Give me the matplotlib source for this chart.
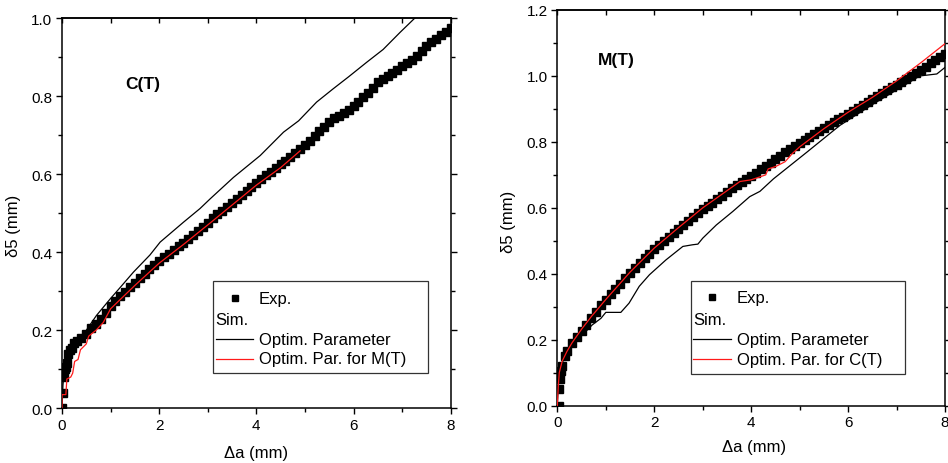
import matplotlib
matplotlib.use('Agg')
import matplotlib.pyplot as plt
from matplotlib.lines import Line2D
from matplotlib.patches import Rectangle
from matplotlib.ticker import MultipleLocator

plt.rcParams['font.family'] = ['Liberation Sans', 'DejaVu Sans']

################################################################################################
# DATA
################################################################################################

# C(T) panel
ct_exp_x = [0, 0.02, 0.04, 0.06, 0.08, 0.1, 0.13, 0.16, 0.2, 0.25, 0.3,
            0.4, 0.5, 0.6, 0.7, 0.8, 0.9,
            1.0, 1.1, 1.2, 1.3, 1.4, 1.5, 1.6, 1.7, 1.8, 1.9,
            2.0, 2.1, 2.2, 2.3, 2.4, 2.5, 2.6, 2.7, 2.8, 2.9,
            3.0, 3.1, 3.2, 3.3, 3.4, 3.5, 3.6, 3.7, 3.8, 3.9,
            4.0, 4.1, 4.2, 4.3, 4.4, 4.5, 4.6, 4.7, 4.8, 4.9,
            5.0, 5.1, 5.2, 5.3, 5.4, 5.5, 5.6, 5.7, 5.8, 5.9,
            6.0, 6.1, 6.2, 6.3, 6.4, 6.5, 6.6, 6.7, 6.8, 6.9,
            7.0, 7.1, 7.2, 7.3, 7.4, 7.5, 7.6, 7.7, 7.8, 7.9, 8.0]
ct_exp_y = [0, 0.04, 0.08, 0.10, 0.105, 0.115, 0.14, 0.15, 0.155, 0.168, 0.172,
            0.18, 0.19, 0.205, 0.215, 0.23, 0.245,
            0.262, 0.274, 0.287, 0.298, 0.31, 0.321, 0.333, 0.345, 0.357, 0.367,
            0.378, 0.387, 0.396, 0.406, 0.416, 0.425, 0.435, 0.445, 0.455, 0.465,
            0.476, 0.487, 0.497, 0.507, 0.517, 0.527, 0.537, 0.547, 0.557, 0.567,
            0.578, 0.588, 0.597, 0.605, 0.616, 0.626, 0.635, 0.645, 0.655, 0.665,
            0.675, 0.686, 0.698, 0.71, 0.72, 0.733, 0.745, 0.75, 0.756, 0.765,
            0.776, 0.785, 0.797, 0.808, 0.822, 0.836, 0.845, 0.853, 0.86, 0.868,
            0.877, 0.885, 0.893, 0.903, 0.915, 0.928, 0.938, 0.947, 0.957, 0.966, 0.975]

ct_opt_x = [0, 0.02, 0.05, 0.1, 0.2, 0.3, 0.5, 0.71, 0.99, 1.2, 1.47, 1.81, 2.02, 2.5,
            2.84, 3.05, 3.53, 4.08, 4.56, 4.87, 5.24, 5.58, 5.9, 6.27, 6.61, 6.96, 7.3]
ct_opt_y = [0, 0.06, 0.1, 0.13, 0.16, 0.175, 0.2, 0.238, 0.28, 0.31, 0.349, 0.393, 0.426, 0.477,
            0.512, 0.537, 0.592, 0.648, 0.708, 0.737, 0.785, 0.819, 0.85, 0.887, 0.92, 0.964, 1.005]

ct_mt_x = [0, 0.0, 0.08, 0.1, 0.18, 0.22, 0.26, 0.33, 0.38, 0.5, 0.55, 0.7, 0.85,
           1.0, 1.5, 2.0, 2.5, 3.0, 3.5, 4.0, 4.5, 4.9]
ct_mt_y = [0, 0.035, 0.035, 0.075, 0.08, 0.09, 0.12, 0.125, 0.15, 0.165, 0.185, 0.2, 0.22,
           0.255, 0.315, 0.372, 0.42, 0.47, 0.521, 0.572, 0.617, 0.66]

# M(T) panel
mt_exp_x = [0.03, 0.04, 0.05, 0.07, 0.1, 0.15, 0.2, 0.3, 0.4, 0.5, 0.6, 0.7, 0.8, 0.9,
            1.0, 1.1, 1.2, 1.3, 1.4, 1.5, 1.6, 1.7, 1.8, 1.9,
            2.0, 2.1, 2.2, 2.3, 2.4, 2.5, 2.6, 2.7, 2.8, 2.9,
            3.0, 3.1, 3.2, 3.3, 3.4, 3.5, 3.6, 3.7, 3.8, 3.9,
            4.0, 4.1, 4.2, 4.3, 4.4, 4.5, 4.6, 4.7, 4.8, 4.9,
            5.0, 5.1, 5.2, 5.3, 5.4, 5.5, 5.6, 5.7, 5.8, 5.9,
            6.0, 6.1, 6.2, 6.3, 6.4, 6.5, 6.6, 6.7, 6.8, 6.9,
            7.0, 7.1, 7.2, 7.3, 7.4, 7.5, 7.6, 7.7, 7.8, 7.9, 8.0]
mt_exp_y = [0.0, 0.05, 0.08, 0.105, 0.12, 0.15, 0.165, 0.19, 0.207, 0.228, 0.245, 0.265, 0.285, 0.305,
            0.322, 0.338, 0.354, 0.37, 0.386, 0.402, 0.417, 0.432, 0.447, 0.461,
            0.474, 0.487, 0.5, 0.512, 0.524, 0.536, 0.548, 0.56, 0.572, 0.584,
            0.595, 0.605, 0.615, 0.626, 0.637, 0.648, 0.659, 0.668, 0.677, 0.687,
            0.697, 0.707, 0.717, 0.727, 0.737, 0.748, 0.758, 0.768, 0.778, 0.787,
            0.796, 0.805, 0.814, 0.823, 0.832, 0.841, 0.85, 0.859, 0.868, 0.877,
            0.886, 0.895, 0.904, 0.913, 0.921, 0.93, 0.939, 0.948, 0.957, 0.965,
            0.974, 0.983, 0.991, 1.0, 1.009, 1.018, 1.028, 1.038, 1.048, 1.058, 1.068]

mt_opt_x = [0, 0.02, 0.05, 0.1, 0.2, 0.35, 0.52, 0.72, 0.9, 1.0, 1.31, 1.48, 1.69, 1.9, 2.24,
            2.59, 2.79, 2.9, 3.0, 3.28, 3.62, 3.97, 4.18, 4.46, 5.15, 5.83, 6.52, 7.21, 7.48,
            7.83, 8.0]
mt_opt_y = [0, 0.06, 0.1, 0.13, 0.16, 0.19, 0.215, 0.245, 0.265, 0.283, 0.283, 0.311, 0.362,
            0.397, 0.442, 0.483, 0.488, 0.49, 0.508, 0.548, 0.589, 0.634, 0.65, 0.688, 0.769,
            0.85, 0.915, 0.976, 1.0, 1.006, 1.026]

mt_ct_x = [0, 0.02, 0.04, 0.1, 0.2, 0.3, 0.5, 0.7, 1.0, 1.5, 2.0, 2.5, 3.0, 3.5, 3.77, 4.0,
           4.2, 4.3, 4.35, 4.5, 4.7, 4.85, 5.0, 5.5, 6.0, 6.5, 7.0, 7.5, 8.0]
mt_ct_y = [0, 0.06, 0.1, 0.135, 0.165, 0.19, 0.232, 0.27, 0.322, 0.405, 0.478, 0.54, 0.6,
           0.652, 0.68, 0.685, 0.695, 0.7, 0.718, 0.725, 0.74, 0.765, 0.785, 0.84, 0.89, 0.935,
           0.985, 1.04, 1.098]

################################################################################################
# PLOT STUFF
################################################################################################

def style_axes(ax, ymax):
    ax.set_xlim(0, 8)
    ax.set_ylim(0, ymax)
    ax.xaxis.set_major_locator(MultipleLocator(2))
    ax.xaxis.set_minor_locator(MultipleLocator(1))
    ax.yaxis.set_major_locator(MultipleLocator(0.2))
    ax.yaxis.set_minor_locator(MultipleLocator(0.1))
    for sp in ax.spines.values():
        sp.set_linewidth(1.1)
    ax.tick_params(axis='both', which='both', direction='out', width=1.0,
                   labelsize=11, pad=3, top=False, right=True)
    ax.tick_params(which='major', length=4)
    ax.tick_params(which='minor', length=3)
    # top axis ticks point inwards in the original
    top = ax.secondary_xaxis('top')
    top.xaxis.set_major_locator(MultipleLocator(2))
    top.xaxis.set_minor_locator(MultipleLocator(1))
    top.tick_params(which='both', direction='in', width=1.0, length=3.5, labeltop=False)
    top.spines['top'].set_linewidth(1.1)


def draw_legend(ax, box, rows_y, hx, mx, tx, red_label):
    x0, y0, x1, y1 = box
    ax.add_patch(Rectangle((x0, y0), x1 - x0, y1 - y0, transform=ax.transAxes,
                           facecolor='white', edgecolor='#333333', linewidth=0.9, zorder=5))
    fs = 12
    ax.add_line(Line2D([mx], [rows_y[0]], marker='s', markersize=5, color='black',
                       linestyle='none', transform=ax.transAxes, zorder=6))
    ax.text(tx, rows_y[0], 'Exp.', transform=ax.transAxes, fontsize=fs, va='center', zorder=6)
    ax.text(hx[0], rows_y[1], 'Sim.', transform=ax.transAxes, fontsize=fs, va='center', zorder=6)
    ax.add_line(Line2D(hx, [rows_y[2]] * 2, color='black', linewidth=0.9,
                       transform=ax.transAxes, zorder=6))
    ax.text(tx, rows_y[2], 'Optim. Parameter', transform=ax.transAxes, fontsize=fs,
            va='center', zorder=6)
    ax.add_line(Line2D(hx, [rows_y[3]] * 2, color='#ff1a1a', linewidth=0.9,
                       transform=ax.transAxes, zorder=6))
    ax.text(tx, rows_y[3], red_label, transform=ax.transAxes, fontsize=fs,
            va='center', zorder=6)


fig = plt.figure(figsize=(9.48, 4.64), dpi=100)
ax1 = fig.add_axes([0.0654, 0.118, 0.410, 0.8405])
ax2 = fig.add_axes([0.5879, 0.1235, 0.409, 0.8528])

# left: C(T)
ax1.plot(ct_exp_x, ct_exp_y, 's', color='black', markersize=6, zorder=2)
ax1.plot(ct_opt_x, ct_opt_y, '-', color='black', linewidth=0.9, zorder=3)
ax1.plot(ct_mt_x, ct_mt_y, '-', color='#ff1a1a', linewidth=0.9, zorder=4)
style_axes(ax1, 1.0)
ax1.set_xlabel('\u0394a (mm)', fontsize=12)
ax1.set_ylabel('\u03b45 (mm)', fontsize=12)
ax1.xaxis.set_label_coords(0.499, -0.094)
ax1.yaxis.set_label_coords(-0.105, 0.47)
ax1.text(0.208, 0.832, 'C(T)', transform=ax1.transAxes, fontsize=12.5, fontweight='bold',
         ha='center', va='center')
draw_legend(ax1, (0.389, 0.0897, 0.941, 0.326), [0.282, 0.228, 0.177, 0.127],
            [0.395, 0.492], 0.445, 0.507, 'Optim. Par. for M(T)')

# right: M(T)
ax2.plot(mt_exp_x, mt_exp_y, 's', color='black', markersize=6, zorder=2)
ax2.plot(mt_opt_x, mt_opt_y, '-', color='black', linewidth=0.9, zorder=3)
ax2.plot(mt_ct_x, mt_ct_y, '-', color='#ff1a1a', linewidth=0.9, zorder=4)
style_axes(ax2, 1.2)
ax2.set_xlabel('\u0394a (mm)', fontsize=12)
ax2.set_ylabel('\u03b45 (mm)', fontsize=12)
ax2.xaxis.set_label_coords(0.507, -0.084)
ax2.yaxis.set_label_coords(-0.1065, 0.4675)
ax2.text(0.153, 0.874, 'M(T)', transform=ax2.transAxes, fontsize=12.5, fontweight='bold',
         ha='center', va='center')
draw_legend(ax2, (0.344, 0.080, 0.896, 0.315), [0.274, 0.219, 0.168, 0.118],
            [0.351, 0.449], 0.40, 0.463, 'Optim. Par. for C(T)')

fig.savefig('out.png', dpi=100)
